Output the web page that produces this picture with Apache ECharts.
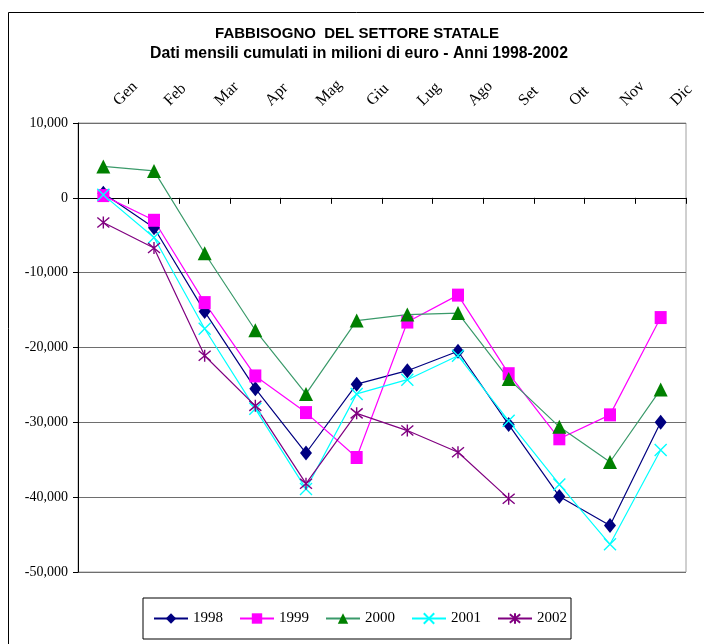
<!DOCTYPE html>
<html>
<head>
<meta charset="utf-8">
<script src="https://cdn.jsdelivr.net/npm/echarts@6/dist/echarts.min.js"></script>
<style>
  html, body { margin: 0; padding: 0; background: #fff; }
  #chart { width: 704px; height: 644px; }
</style>
</head>
<body>
<div id="chart"></div>
<script>
// Monthly cumulated state-sector borrowing requirement (million euro)
const months = ['Gen', 'Feb', 'Mar', 'Apr', 'Mag', 'Giu', 'Lug', 'Ago', 'Set', 'Ott', 'Nov', 'Dic'];
const years = ['1998', '1999', '2000', '2001', '2002'];
const y1998 = [600, -4000, -15200, -25500, -34100, -24900, -23100, -20500, -30300, -39900, -43800, -30000];
const y1999 = [300, -3000, -14000, -23800, -28700, -34700, -16600, -13000, -23500, -32200, -29000, -16000];
const y2000 = [4200, 3600, -7400, -17700, -26200, -16400, -15600, -15400, -24200, -30600, -35300, -25600];
const y2001 = [400, -5300, -17500, -28200, -38900, -26200, -24300, -21100, -29800, -38300, -46300, -33700];
const y2002 = [-3300, -6700, -21100, -27800, -38200, -28800, -31100, -34000, -40200, null, null, null];
const yTicks = { min: -50000, max: 10000, step: 10000 };

const serif = 'Liberation Serif';
const sans = 'Liberation Sans';

function thousands(v) {
  const s = String(Math.abs(v)).replace(/\B(?=(\d{3})+(?!\d))/g, ',');
  return (v < 0 ? '-' : '') + s;
}

const crossPath = 'path://M0,0L10,10M10,0L0,10';
const starPath = 'path://M0,0L10,10M10,0L0,10M5,-1L5,11';

function lineSeries(name, data, lineColor, markColor, symbol, size, stroked) {
  return {
    name: name,
    type: 'line',
    data: data,
    xAxisIndex: 0,
    yAxisIndex: 0,
    symbol: symbol,
    symbolSize: size,
    showAllSymbol: true,
    connectNulls: false,
    lineStyle: { color: lineColor, width: 1.2 },
    itemStyle: stroked
      ? { color: 'rgba(0,0,0,0)', borderColor: markColor, borderWidth: 1.4 }
      : { color: markColor, borderWidth: 0 },
    emphasis: { disabled: true },
    z: 3
  };
}

const chart = echarts.init(document.getElementById('chart'), null, { renderer: 'canvas' });

chart.setOption({
  animation: false,
  backgroundColor: '#ffffff',
  title: [
    {
      text: 'FABBISOGNO  DEL SETTORE STATALE',
      left: 352, textAlign: 'center', top: 21,
      textStyle: { fontFamily: sans, fontSize: 15, fontWeight: 'bold', color: '#000' }
    },
    {
      text: 'Dati mensili cumulati in milioni di euro - Anni 1998-2002',
      left: 354, textAlign: 'center', top: 41,
      textStyle: { fontFamily: sans, fontSize: 15.8, fontWeight: 'bold', color: '#000' }
    }
  ],
  graphic: [
    {
      type: 'rect',
      shape: { x: 8.5, y: 12.5, width: 700, height: 660 },
      style: { fill: 'none', stroke: '#000', lineWidth: 1 },
      silent: true, z: -1
    }
  ],
  legend: {
    data: years,
    left: 143, top: 598,
    orient: 'horizontal',
    itemWidth: 34, itemHeight: 13, itemGap: 16,
    padding: [13, 4, 13, 10],
    borderColor: '#000', borderWidth: 1,
    backgroundColor: '#fff',
    textStyle: { fontFamily: serif, fontSize: 15, color: '#000' },
    selectedMode: false
  },
  grid: [{
    left: 78, right: 18, top: 123, bottom: 72,
    show: true, borderColor: '#a0a0a0', borderWidth: 1, backgroundColor: 'transparent',
    containLabel: false
  }],
  xAxis: [
    {
      type: 'category', data: months, position: 'bottom', gridIndex: 0,
      boundaryGap: true,
      axisLine: { onZero: true, lineStyle: { color: '#000', width: 1 } },
      axisTick: { show: true, length: 6, lineStyle: { color: '#000' } },
      axisLabel: { show: false },
      splitLine: { show: false }
    },
    {
      type: 'category', data: months, position: 'top', gridIndex: 0,
      boundaryGap: true,
      axisLine: { show: false, onZero: false },
      axisTick: { show: false },
      axisLabel: {
        show: true, rotate: -45, margin: 7, interval: 0,
        padding: [0, 0, 0, 18],
        fontFamily: serif, fontSize: 16, color: '#000'
      },
      splitLine: { show: false }
    }
  ],
  yAxis: [{
    type: 'value', gridIndex: 0,
    min: yTicks.min, max: yTicks.max, interval: yTicks.step,
    axisLine: { show: true, lineStyle: { color: '#000', width: 1 } },
    axisTick: { show: true, length: 5, lineStyle: { color: '#000' } },
    axisLabel: {
      margin: 10, fontFamily: serif, fontSize: 14, color: '#000',
      formatter: thousands
    },
    splitLine: { show: true, lineStyle: { color: '#6e6e6e', width: 1 } }
  }],
  series: [
    lineSeries('1998', y1998, '#000080', '#000080', 'diamond', [12, 15], false),
    lineSeries('1999', y1999, '#ff00ff', '#ff00ff', 'rect', [12, 13], false),
    lineSeries('2000', y2000, '#3a9a6a', '#008000', 'triangle', [14, 14], false),
    lineSeries('2001', y2001, '#00ffff', '#00ffff', crossPath, [12, 12], true),
    lineSeries('2002', y2002, '#800080', '#800080', starPath, [12, 12], true)
  ]
});
</script>
</body>
</html>
